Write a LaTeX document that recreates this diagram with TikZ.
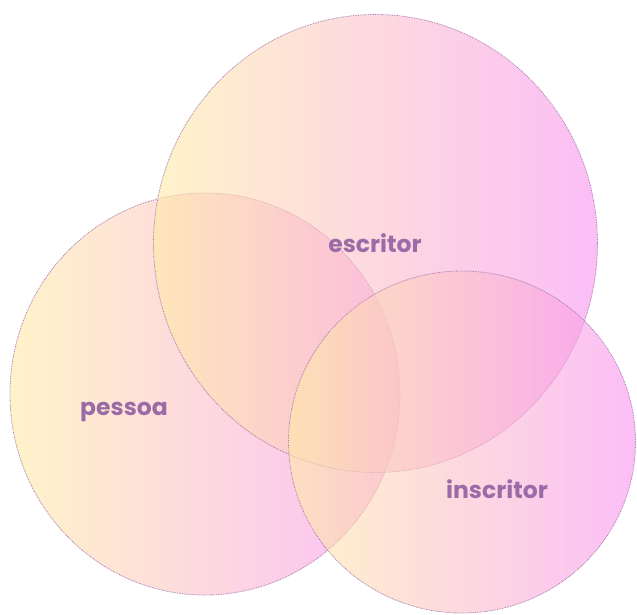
\documentclass[tikz,border=0pt]{standalone}
\usepackage{fontspec}
\setmainfont{Poppins}
\usetikzlibrary{shapes.geometric}
\definecolor{yel}{HTML}{FFEBA5}
\definecolor{pnk}{HTML}{F893F0}
\definecolor{edge}{HTML}{A77CB0}
\definecolor{lbl}{HTML}{9B6BA8}
\tikzset{
  setshape/.style={left color=yel, right color=pnk, fill opacity=0.6,
    draw=edge, draw opacity=1, line width=0.8pt, dash pattern=on 0.8pt off 0.9pt},
  setlabel/.style={text=lbl, font=\bfseries\fontsize{23.5}{26}\selectfont, inner sep=0pt}
}
\begin{document}
\begin{tikzpicture}[x=1pt,y=-1pt]
\useasboundingbox (0,0) rectangle (637,614);
\path[setshape] (205,394) ellipse [x radius=195, y radius=201];
\path[setshape] (375.5,243.5) ellipse [x radius=222, y radius=229];
\path[setshape] (462,442) ellipse [x radius=173.5, y radius=171];
\node[setlabel] (escritor) at (375,243) {escritor};
\node[setlabel] (pessoa) at (124,412) {pessoa};
\node[setlabel] (inscritor) at (497,489) {inscritor};
\end{tikzpicture}
\end{document}
